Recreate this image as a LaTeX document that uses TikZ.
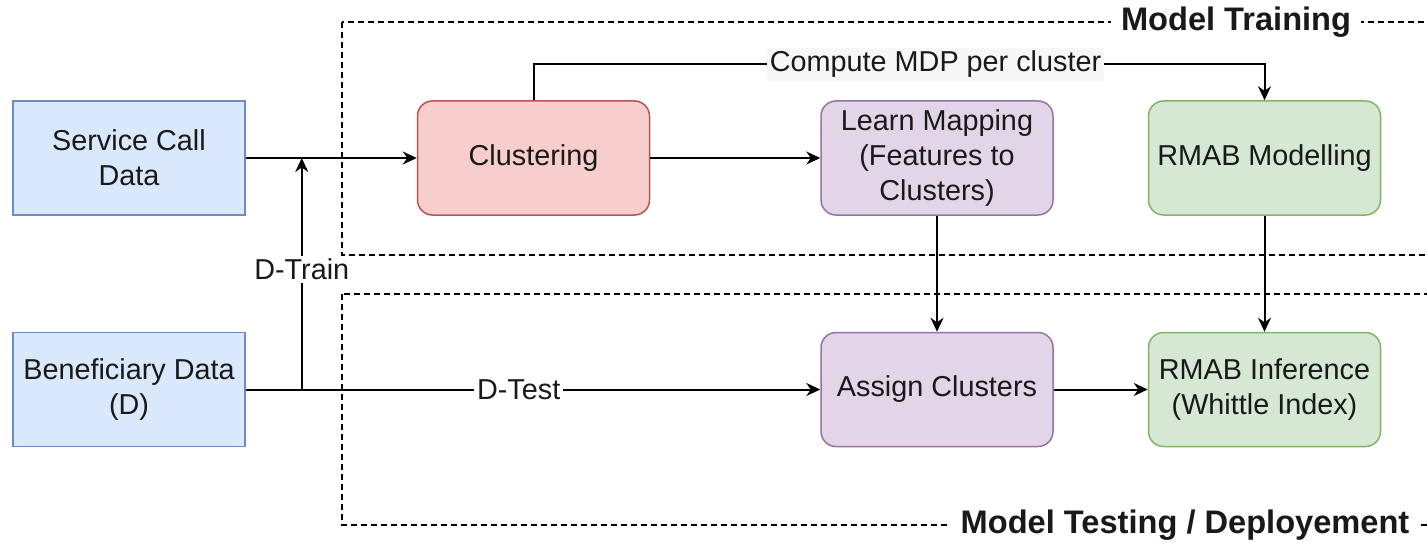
\documentclass[tikz,border=0pt]{standalone}
\usepackage{fontspec}
\setmainfont{Liberation Sans}
\usetikzlibrary{arrows.meta,positioning,calc}
\definecolor{dataFill}{HTML}{DAE8FC}
\definecolor{dataLine}{HTML}{6C8EBF}
\definecolor{cluFill}{HTML}{F8CECC}
\definecolor{cluLine}{HTML}{B85450}
\definecolor{mapFill}{HTML}{E1D5E7}
\definecolor{mapLine}{HTML}{9673A6}
\definecolor{rmabFill}{HTML}{D5E8D4}
\definecolor{rmabLine}{HTML}{82B366}

\begin{document}
\begin{tikzpicture}[
  x=0.5pt, y=-0.5pt,
  every node/.style={font=\fontsize{14.4}{17.5}\selectfont, align=center, text=black!90},
  box/.style={draw, line width=0.75pt, minimum width=116pt, minimum height=57pt, inner sep=2pt},
  databox/.style={box, fill=dataFill, draw=dataLine},
  clubox/.style={box, rounded corners=7.5pt, fill=cluFill, draw=cluLine},
  mapbox/.style={box, rounded corners=7.5pt, fill=mapFill, draw=mapLine},
  rmabbox/.style={box, rounded corners=7.5pt, fill=rmabFill, draw=rmabLine},
  frame/.style={line width=0.65pt, dash pattern=on 3pt off 2pt},
  title/.style={fill=white, inner xsep=5pt, inner ysep=2pt, font=\fontsize{16.3}{19}\selectfont\bfseries},
  lbl/.style={fill=white, inner sep=1.5pt},
  conn/.style={->, line width=1pt},
  >={Stealth[length=7pt, width=6.5pt]}
]
\clip (0,0) rectangle (1427,545);
% dashed frames
\draw[frame] (342,22) rectangle (1480,255);
\draw[frame] (342,294) rectangle (1480,525);
\node[title] (ttrain) at (1236,22) {Model Training};
\node[title] (ttest) at (1185,525) {Model Testing / Deployement};

% data sources
\node[databox] (scd) at (129,158) {Service Call\\Data};
\node[databox, below=58pt of scd] (bd) {Beneficiary Data\\(D)};

% training row
\node[clubox, right=85.5pt of scd] (clu) {Clustering};
\node[mapbox, right=85pt of clu] (map) {Learn Mapping\\(Features to\\Clusters)};
\node[rmabbox, right=47pt of map] (rmod) {RMAB Modelling};

% testing row
\node[mapbox, below=58pt of map] (asg) {Assign Clusters};
\node[rmabbox, below=58pt of rmod] (rinf) {RMAB Inference\\(Whittle Index)};

\coordinate[right=28pt of bd] (split);

\draw[conn] (scd) -- (clu);
\draw[conn] (bd) -- node[lbl, pos=0.475] {D-Test} (asg);
\draw[conn] (split) -- node[lbl, pos=0.52] {D-Train} (split |- scd);
\draw[conn] (clu) -- (map);
\draw[conn] (clu.north) -- ++(0,-36) -| node[lbl, fill=gray!6, pos=0.275] {Compute MDP per cluster} (rmod.north);
\draw[conn] (map) -- (asg);
\draw[conn] (rmod) -- (rinf);
\draw[conn] (asg) -- (rinf);
\end{tikzpicture}
\end{document}
